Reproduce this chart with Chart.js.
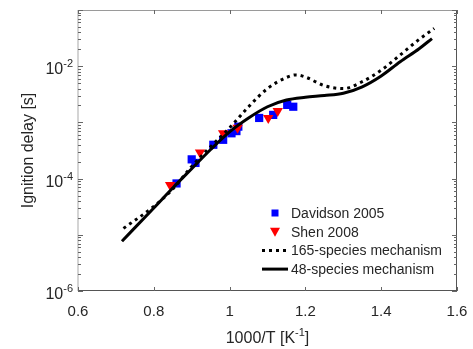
<!DOCTYPE html>
<html>
<head>
<meta charset="utf-8">
<script src="https://cdn.jsdelivr.net/npm/chart.js@4/dist/chart.umd.min.js"></script>
<style>
  html, body { margin: 0; padding: 0; background: #fff; }
  canvas { display: block; }
</style>
</head>
<body>
<canvas id="chart" width="473" height="349"></canvas>
<script>
// measured data
const davidsonX = [0.860, 0.900, 0.910, 0.957, 0.983, 1.005, 1.018, 1.023, 1.078, 1.115, 1.152, 1.168];
const davidsonY = [8.2e-5, 2.2e-4, 1.9e-4, 4.0e-4, 4.9e-4, 6.4e-4, 7.0e-4, 8.4e-4, 1.2e-3, 1.36e-3, 2.05e-3, 1.9e-3];

const shenX = [0.843, 0.922, 0.983, 1.021, 1.102, 1.127];
const shenY = [7.7e-5, 2.9e-4, 6.4e-4, 8.0e-4, 1.2e-3, 1.6e-3];

// model curves
const mech165X = [0.72, 0.8, 0.85, 0.9, 0.95, 1.0, 1.05, 1.1, 1.15, 1.175, 1.2, 1.25, 1.3, 1.35, 1.4, 1.45, 1.5, 1.54];
const mech165Y = [1.3e-5, 3.2e-5, 6.5e-5, 1.65e-4, 3.7e-4, 8.0e-4, 1.9e-3, 4.0e-3, 6.3e-3, 7.0e-3, 6.4e-3, 4.5e-3, 4.0e-3, 5.3e-3, 8.5e-3, 1.58e-2, 3.0e-2, 4.7e-2];

const mech48X = [0.716, 0.8, 0.85, 0.9, 0.95, 1.0, 1.05, 1.1, 1.15, 1.2, 1.25, 1.3, 1.35, 1.4, 1.45, 1.5, 1.534];
const mech48Y = [7.7e-6, 3.0e-5, 6.8e-5, 1.5e-4, 3.3e-4, 6.8e-4, 1.2e-3, 1.9e-3, 2.5e-3, 2.8e-3, 3.0e-3, 3.3e-3, 4.3e-3, 6.7e-3, 1.2e-2, 2.05e-2, 3.1e-2];

// axis ticks
const xTicks = [0.6, 0.8, 1.0, 1.2, 1.4, 1.6];
const xTickLabels = ['0.6', '0.8', '1', '1.2', '1.4', '1.6'];
const yDecades = [-6, -5, -4, -3, -2, -1];
const yLabelExps = [-6, -4, -2];

const FONT = '"Liberation Sans", Arial, sans-serif';
const TEXT = '#262626';

function toPoints(xs, ys) {
    return xs.map((x, i) => ({x: x, y: ys[i]}));
}

// axes frame, inside ticks, labels and legend
const frame = {
    id: 'frame',
    afterDraw(chart) {
        const ctx = chart.ctx;
        const a = chart.chartArea;
        const xs = chart.scales.x;
        const ys = chart.scales.y;
        ctx.save();

        // box
        ctx.lineWidth = 1;
        ctx.strokeStyle = '#9a9a9a';
        ctx.beginPath();
        ctx.moveTo(a.left, a.top + 0.5); ctx.lineTo(a.right, a.top + 0.5);
        ctx.stroke();
        ctx.strokeStyle = '#555';
        ctx.beginPath();
        ctx.moveTo(a.right - 0.5, a.top); ctx.lineTo(a.right - 0.5, a.bottom);
        ctx.moveTo(a.left, a.bottom - 0.5); ctx.lineTo(a.right, a.bottom - 0.5);
        ctx.stroke();
        ctx.strokeStyle = '#d4d4d4';
        ctx.lineWidth = 2;
        ctx.beginPath();
        ctx.moveTo(a.left, a.top); ctx.lineTo(a.left, a.bottom);
        ctx.stroke();

        // x ticks
        ctx.lineWidth = 1;
        ctx.strokeStyle = '#666';
        ctx.beginPath();
        xTicks.forEach(v => {
            const px = Math.round(xs.getPixelForValue(v)) + 0.5;
            ctx.moveTo(px, a.bottom); ctx.lineTo(px, a.bottom - 4);
            ctx.moveTo(px, a.top); ctx.lineTo(px, a.top + 4);
        });
        // y ticks, decades and minors
        yDecades.forEach(e => {
            for (let m = 1; m <= 9; m++) {
                const v = m * Math.pow(10, e);
                if (v > 1e-1 + 1e-12) continue;
                const py = Math.round(ys.getPixelForValue(v)) + 0.5;
                const len = m === 1 ? 5 : 3;
                ctx.moveTo(a.left, py); ctx.lineTo(a.left + len, py);
                ctx.moveTo(a.right, py); ctx.lineTo(a.right - len, py);
            }
        });
        ctx.stroke();

        // x tick labels
        ctx.fillStyle = TEXT;
        ctx.font = '15px ' + FONT;
        ctx.textAlign = 'center';
        ctx.textBaseline = 'alphabetic';
        xTicks.forEach((v, i) => {
            ctx.fillText(xTickLabels[i], xs.getPixelForValue(v), a.bottom + 25);
        });

        // y tick labels 10^e
        yLabelExps.forEach(e => {
            const py = ys.getPixelForValue(Math.pow(10, e));
            const sup = String(e);
            ctx.font = '11px ' + FONT;
            const supW = ctx.measureText(sup).width;
            ctx.textAlign = 'left';
            const supX = a.left - 5 - supW;
            ctx.fillText(sup, supX, py + 1);
            ctx.font = '16px ' + FONT;
            const baseW = ctx.measureText('10').width;
            ctx.fillText('10', supX - baseW, py + 8);
        });

        // x title with superscript
        ctx.font = '16px ' + FONT;
        const t1 = '1000/T [K';
        const t2 = '-1';
        const t3 = ']';
        const w1 = ctx.measureText(t1).width;
        const w3 = ctx.measureText(t3).width;
        ctx.font = '11px ' + FONT;
        const w2 = ctx.measureText(t2).width;
        let tx = (a.left + a.right) / 2 - (w1 + w2 + w3) / 2;
        const ty = a.bottom + 52;
        ctx.textAlign = 'left';
        ctx.font = '16px ' + FONT;
        ctx.fillText(t1, tx, ty);
        ctx.font = '11px ' + FONT;
        ctx.fillText(t2, tx + w1, ty - 7);
        ctx.font = '16px ' + FONT;
        ctx.fillText(t3, tx + w1 + w2, ty);

        // y title
        ctx.save();
        ctx.translate(33, (a.top + a.bottom) / 2);
        ctx.rotate(-Math.PI / 2);
        ctx.textAlign = 'center';
        ctx.font = '16px ' + FONT;
        ctx.fillText('Ignition delay [s]', 0, 0);
        ctx.restore();

        // legend
        const lx = 275, textX = 291;
        let ly = 213;
        const rowH = 18.7;
        ctx.font = '14px ' + FONT;
        ctx.textBaseline = 'middle';
        chart.data.datasets.forEach((ds, i) => {
            const y = ly + i * rowH;
            if (ds.showLine) {
                ctx.strokeStyle = ds.borderColor;
                ctx.lineWidth = ds.borderWidth;
                ctx.setLineDash(ds.borderDash || []);
                ctx.beginPath();
                ctx.moveTo(262, y); ctx.lineTo(288, y);
                ctx.stroke();
                ctx.setLineDash([]);
            } else if (ds.pointStyle === 'rect') {
                ctx.fillStyle = ds.backgroundColor;
                ctx.fillRect(lx - 3.5, y - 3.5, 7, 7);
            } else {
                ctx.fillStyle = ds.backgroundColor;
                ctx.beginPath();
                ctx.moveTo(lx - 5, y - 4); ctx.lineTo(lx + 5, y - 4); ctx.lineTo(lx, y + 5);
                ctx.closePath();
                ctx.fill();
            }
            ctx.fillStyle = TEXT;
            ctx.textAlign = 'left';
            ctx.fillText(ds.label, textX, y + 1);
        });

        ctx.restore();
    }
};

new Chart(document.getElementById('chart'), {
    type: 'scatter',
    data: {
        datasets: [{
            label: 'Davidson 2005',
            data: toPoints(davidsonX, davidsonY),
            pointStyle: 'rect',
            pointRadius: 5.8,
            backgroundColor: '#0000ff',
            borderColor: '#0000ff',
            borderWidth: 0,
            showLine: false,
            order: 2
        }, {
            label: 'Shen 2008',
            data: toPoints(shenX, shenY),
            pointStyle: 'triangle',
            rotation: 180,
            pointRadius: 6,
            backgroundColor: '#ff0000',
            borderColor: '#ff0000',
            borderWidth: 0,
            showLine: false,
            order: 1
        }, {
            label: '165-species mechanism',
            data: toPoints(mech165X, mech165Y),
            showLine: true,
            pointRadius: 0,
            borderColor: '#000',
            borderWidth: 3,
            borderDash: [3, 4],
            cubicInterpolationMode: 'monotone',
            order: 0
        }, {
            label: '48-species mechanism',
            data: toPoints(mech48X, mech48Y),
            showLine: true,
            pointRadius: 0,
            borderColor: '#000',
            borderWidth: 3,
            cubicInterpolationMode: 'monotone',
            order: 0
        }]
    },
    options: {
        responsive: false,
        animation: false,
        devicePixelRatio: 1,
        layout: {padding: {left: 78, right: 16, top: 10, bottom: 58}},
        plugins: {legend: {display: false}, tooltip: {enabled: false}},
        scales: {
            x: {type: 'linear', min: 0.6, max: 1.6, display: false},
            y: {type: 'logarithmic', min: 1e-6, max: 1e-1, display: false}
        }
    },
    plugins: [frame]
});
</script>
</body>
</html>
